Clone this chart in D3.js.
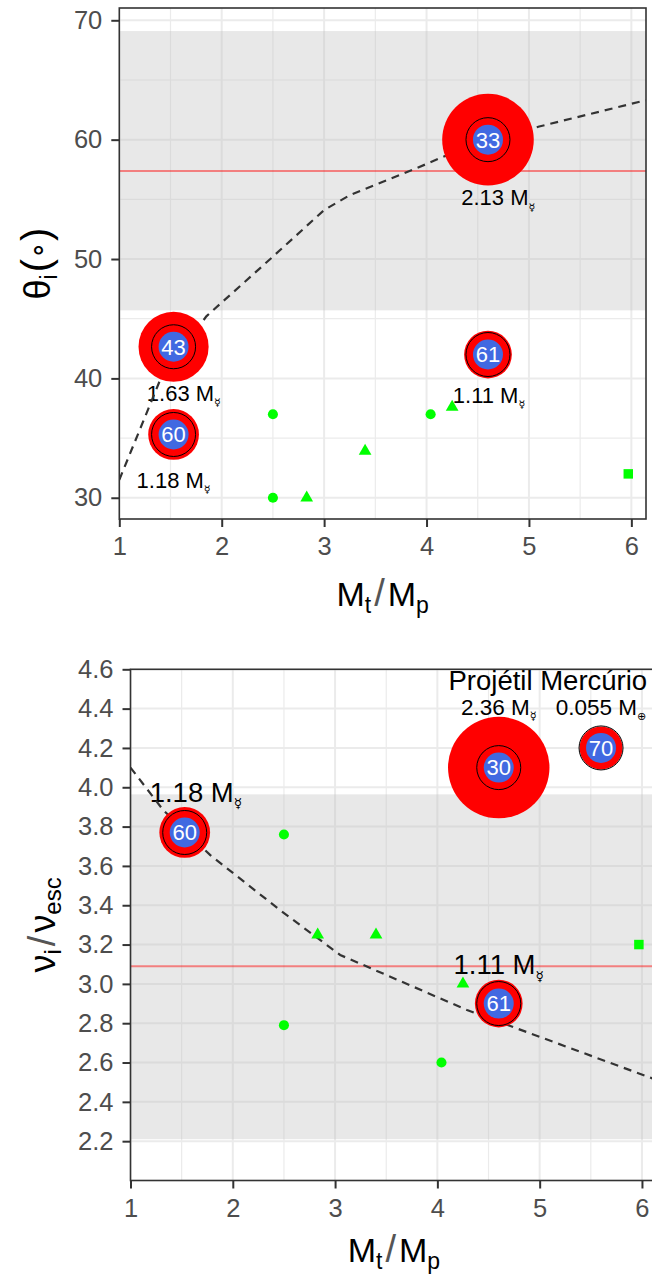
<!DOCTYPE html>
<html>
<head>
<meta charset="utf-8">
<script src="https://cdn.jsdelivr.net/npm/d3@7"></script>
<style>
  body { margin: 0; background: #fff; }
  svg text { font-family: "Liberation Sans", Arial, sans-serif; }
</style>
</head>
<body>
<div id="chart"></div>
<script>
'use strict';

// reference runs (green markers), same Mt/Mp in both panels
var refRatio = [2.5, 2.5, 2.83, 3.4, 4.04, 4.25, 5.97];
var refShape = ['circle', 'circle', 'triangle', 'triangle', 'circle', 'triangle', 'square'];
var refTheta = [37, 30, 30, 33.9, 37, 37.6, 32];
var refVel = [3.76, 2.79, 3.25, 3.25, 2.6, 3.0, 3.2];

// simulations, top panel (theta_i)
var topId = [33, 43, 60, 61];
var topRatio = [4.6, 1.53, 1.53, 4.6];
var topTheta = [60, 42.65, 35.3, 42.0];
var topMass = [2.13, 1.63, 1.18, 1.11];
var topLabelX = [4.70, 1.63, 1.53, 4.61];
var topLabelY = [55.15, 38.75, 31.5, 38.6];

// simulations, bottom panel (v_i / v_esc)
var botId = [60, 30, 61, 70];
var botRatio = [1.53, 4.6, 4.6, 5.6];
var botVel = [3.77, 4.1, 2.9, 4.2];
var botMass = [1.18, 2.36, 1.11, 1.0];
var botLabelText = ['1.18', '1.11'];
var botLabelX = [1.64, 4.6];
var botLabelY = [3.977, 3.1];
var headText = ['2.36', '0.055'];
var headUnit = ['\u263F', '\u2295'];
var headX = [4.6, 5.6];
var headY = 4.41;
var headTitle = 'Projétil Mercúrio';
var headTitleX = 5.08;
var headTitleY = 4.545;

// dashed model curves
var topCurveX = [1, 1.4, 1.85, 2.5, 3.0, 3.25, 3.9, 4.2, 5.1, 6.14];
var topCurveY = [31.5, 39.9, 45.2, 50.2, 54.1, 55.35, 57.6, 58.7, 61.1, 63.3];
var botCurveX = [1, 1.32, 1.78, 2.46, 3.05, 4.29, 6.15];
var botCurveY = [4.1, 3.884, 3.655, 3.376, 3.147, 2.867, 2.51];

// shaded ranges and red reference lines
var topBand = [45.7, 69.1];
var topRef = 57.37;
var botBand = [2.21, 3.964];
var botRef = 3.09;

// ticks
var xTicks = [1, 2, 3, 4, 5, 6];
var xMinor = [1.5, 2.5, 3.5, 4.5, 5.5];
var topYTicks = [30, 40, 50, 60, 70];
var topYMinor = [35, 45, 55, 65];
var botYTicks = [2.2, 2.4, 2.6, 2.8, 3.0, 3.2, 3.4, 3.6, 3.8, 4.0, 4.2, 4.4, 4.6];

var MERC = '\u263F';

var svg = d3.select('#chart').append('svg')
  .attr('width', 652)
  .attr('height', 1275);

// radius proportional to mass (in Mercury masses)
var rScale = d3.scaleLinear().domain([0, 1]).range([0, 21.5]);

function zip(xs, ys) {
  return xs.map(function(x, i) { return [x, ys[i]]; });
}

function capY(y, fs) { return y + 0.358 * fs; }

function massLabel(g, x, y, fs, value, unit) {
  var t = g.append('text')
    .attr('x', x)
    .attr('y', capY(y, fs))
    .attr('text-anchor', 'middle')
    .attr('fill', '#000')
    .style('font-size', fs + 'px');
  t.append('tspan').text(value + ' M');
  t.append('tspan')
    .attr('dy', fs * 0.24)
    .style('font-family', '"DejaVu Sans", sans-serif')
    .style('font-size', (fs * 0.5) + 'px')
    .text(unit);
}

function drawPanel(opt) {
  var x = opt.x, y = opt.y;
  var g = svg.append('g');
  var x0 = x.range()[0], x1 = x.range()[1];
  var y0 = y.range()[1], y1 = y.range()[0];

  var clipId = 'clip' + opt.name;
  svg.append('clipPath').attr('id', clipId)
    .append('rect').attr('x', x0).attr('y', y0)
    .attr('width', x1 - x0).attr('height', y1 - y0);

  var panel = g.append('g').attr('clip-path', 'url(#' + clipId + ')');

  // grid
  panel.selectAll('line.gxm')
    .data(xMinor).enter().append('line')
    .attr('x1', function(d) { return x(d); }).attr('x2', function(d) { return x(d); })
    .attr('y1', y0).attr('y2', y1)
    .attr('stroke', '#ebebeb').attr('stroke-width', 1.2);
  panel.selectAll('line.gym')
    .data(opt.yMinor).enter().append('line')
    .attr('y1', function(d) { return y(d); }).attr('y2', function(d) { return y(d); })
    .attr('x1', x0).attr('x2', x1)
    .attr('stroke', '#ebebeb').attr('stroke-width', 1.2);
  panel.selectAll('line.gx')
    .data(xTicks).enter().append('line')
    .attr('x1', function(d) { return x(d); }).attr('x2', function(d) { return x(d); })
    .attr('y1', y0).attr('y2', y1)
    .attr('stroke', '#ebebeb').attr('stroke-width', 2);
  panel.selectAll('line.gy')
    .data(opt.yTicks).enter().append('line')
    .attr('y1', function(d) { return y(d); }).attr('y2', function(d) { return y(d); })
    .attr('x1', x0).attr('x2', x1)
    .attr('stroke', '#ebebeb').attr('stroke-width', 2);

  // shaded band
  panel.append('rect')
    .attr('x', x0).attr('width', x1 - x0)
    .attr('y', y(opt.band[1]))
    .attr('height', y(opt.band[0]) - y(opt.band[1]))
    .attr('fill', '#bebebe').attr('fill-opacity', 0.35);

  // red reference line
  panel.append('line')
    .attr('x1', x0).attr('x2', x1)
    .attr('y1', y(opt.ref)).attr('y2', y(opt.ref))
    .attr('stroke', '#ff0000').attr('stroke-opacity', 0.45).attr('stroke-width', 2);

  opt.labels(panel);

  // dashed curve
  var line = d3.line()
    .x(function(d) { return x(d[0]); })
    .y(function(d) { return y(d[1]); });
  panel.append('path')
    .datum(opt.curve)
    .attr('d', line)
    .attr('fill', 'none')
    .attr('stroke', '#333')
    .attr('stroke-width', 2.2)
    .attr('stroke-dasharray', '8,6');

  // reference markers
  var symType = { circle: d3.symbolCircle, triangle: d3.symbolTriangle, square: d3.symbolSquare };
  var symSize = { circle: 80, triangle: 70, square: 90 };
  panel.selectAll('path.ref')
    .data(opt.refs).enter().append('path')
    .attr('class', 'ref')
    .attr('transform', function(d) { return 'translate(' + x(d.x) + ',' + y(d.y) + ')'; })
    .attr('d', function(d) { return d3.symbol().type(symType[d.shape]).size(symSize[d.shape])(); })
    .attr('fill', '#00ff00');

  // simulation bubbles
  var sims = panel.selectAll('g.sim')
    .data(opt.sims).enter().append('g')
    .attr('class', 'sim')
    .attr('transform', function(d) { return 'translate(' + x(d.x) + ',' + y(d.y) + ')'; });
  sims.append('circle').attr('r', function(d) { return rScale(d.mass); }).attr('fill', '#ff0000');
  sims.append('circle').attr('r', rScale(1) + 0.5).attr('fill', 'none').attr('stroke', '#000').attr('stroke-width', 1);
  sims.append('circle').attr('r', 15).attr('fill', '#4169e1');
  sims.append('text')
    .attr('y', 0.358 * 22)
    .attr('text-anchor', 'middle')
    .attr('fill', '#fff')
    .style('font-size', '22px')
    .text(function(d) { return d.id; });

  // axes
  var ax = d3.axisBottom(x).tickValues(xTicks).tickSize(8).tickPadding(10).tickFormat(d3.format('d'));
  var ay = d3.axisLeft(y).tickValues(opt.yTicks).tickSize(8).tickPadding(9).tickFormat(opt.yFormat);
  var gx = g.append('g').attr('transform', 'translate(0,' + y1 + ')').call(ax);
  var gy = g.append('g').attr('transform', 'translate(' + x0 + ',0)').call(ay);
  [gx, gy].forEach(function(a) {
    a.select('.domain').remove();
    a.selectAll('.tick line').attr('stroke', '#333').attr('stroke-width', 2);
    a.selectAll('.tick text')
      .attr('fill', '#4d4d4d')
      .style('font-size', '25.5px')
      .style('font-family', '"Liberation Sans", Arial, sans-serif');
  });

  // panel border
  g.append('rect')
    .attr('x', x0).attr('y', y0)
    .attr('width', x1 - x0).attr('height', y1 - y0)
    .attr('fill', 'none').attr('stroke', '#333').attr('stroke-width', 1.6);

  // x title  M_t / M_p
  var xt = g.append('text')
    .attr('x', (x0 + x1) / 2)
    .attr('y', opt.xTitleY)
    .attr('text-anchor', 'middle')
    .attr('fill', '#000')
    .style('font-size', '34px');
  xt.append('tspan').text('M');
  xt.append('tspan').attr('dy', 7).style('font-size', '23px').text('t');
  xt.append('tspan').attr('dy', -7).attr('dx', 3).style('font-size', '38px').attr('fill', '#555').text('/');
  xt.append('tspan').attr('dx', 3).text('M');
  xt.append('tspan').attr('dy', 7).style('font-size', '23px').text('p');

  opt.yTitle(g, (y0 + y1) / 2);
}

function records(xs, ys, extra) {
  return xs.map(function(v, i) {
    var o = { x: v, y: ys[i] };
    for (var k in extra) o[k] = extra[k][i];
    return o;
  });
}

// top panel
var xt = d3.scaleLinear().domain([1, 6.143]).range([119.3, 646]);
var yt = d3.scaleLinear().domain([28.22, 71.03]).range([519, 8]);
drawPanel({
  name: 'top',
  x: xt,
  y: yt,
  yTicks: topYTicks,
  yMinor: topYMinor,
  yFormat: d3.format('d'),
  band: topBand,
  ref: topRef,
  curve: zip(topCurveX, topCurveY),
  refs: records(refRatio, refTheta, { shape: refShape }),
  sims: records(topRatio, topTheta, { id: topId, mass: topMass }),
  xTitleY: 606,
  labels: function(p) {
    topMass.forEach(function(m, i) {
      massLabel(p, xt(topLabelX[i]), yt(topLabelY[i]), 22, m.toFixed(2), MERC);
    });
  },
  yTitle: function(g, cy) {
    var t = g.append('text')
      .attr('transform', 'translate(50,' + cy + ') rotate(-90)')
      .attr('text-anchor', 'middle')
      .attr('fill', '#000')
      .style('font-size', '36px');
    t.append('tspan').text('\u03B8');
    t.append('tspan').attr('dy', 7).style('font-size', '23px').text('i');
    t.append('tspan').attr('dy', -7).attr('dx', 2).style('font-size', '40px').text('(');
    t.append('tspan').attr('dy', -4).style('font-size', '28px').text('\u2218');
    t.append('tspan').attr('dy', 4).style('font-size', '40px').text(')');
  }
});

// bottom panel
var xb = d3.scaleLinear().domain([1, 6.15]).range([130.5, 657.3]);
var yb = d3.scaleLinear().domain([2.0, 4.6]).range([1180.5, 669.3]);
drawPanel({
  name: 'bot',
  x: xb,
  y: yb,
  yTicks: botYTicks,
  yMinor: [],
  yFormat: d3.format('.1f'),
  band: botBand,
  ref: botRef,
  curve: zip(botCurveX, botCurveY),
  refs: records(refRatio, refVel, { shape: refShape }),
  sims: records(botRatio, botVel, { id: botId, mass: botMass }),
  xTitleY: 1262,
  labels: function(p) {
    botLabelText.forEach(function(s, i) {
      massLabel(p, xb(botLabelX[i]), yb(botLabelY[i]), 27.5, s, MERC);
    });
    headText.forEach(function(s, i) {
      massLabel(p, xb(headX[i]), yb(headY), 22.5, s, headUnit[i]);
    });
    p.append('text')
      .attr('x', xb(headTitleX))
      .attr('y', capY(yb(headTitleY), 27.5))
      .attr('text-anchor', 'middle')
      .attr('fill', '#000')
      .style('font-size', '27.5px')
      .text(headTitle);
  },
  yTitle: function(g, cy) {
    var t = g.append('text')
      .attr('transform', 'translate(55,' + cy + ') rotate(-90)')
      .attr('text-anchor', 'middle')
      .attr('fill', '#000')
      .style('font-size', '36px');
    t.append('tspan').text('\u03BD');
    t.append('tspan').attr('dy', 6).style('font-size', '24px').text('i');
    t.append('tspan').attr('dy', -6).attr('dx', 3).style('font-size', '38px').attr('fill', '#555').text('/');
    t.append('tspan').attr('dx', 3).text('\u03BD');
    t.append('tspan').attr('dy', 6).style('font-size', '24px').text('esc');
  }
});
</script>
</body>
</html>
